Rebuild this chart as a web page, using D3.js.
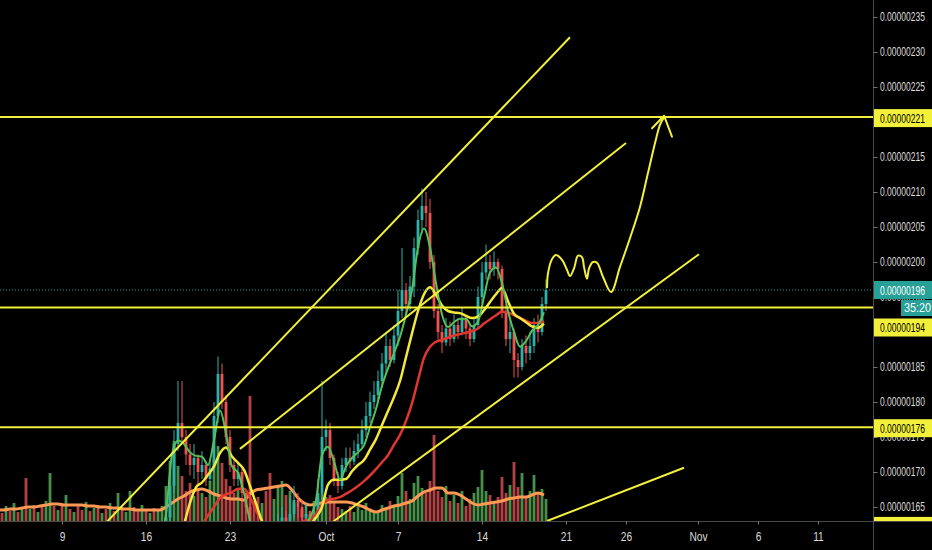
<!DOCTYPE html>
<meta charset="utf-8">
<script src="https://cdn.jsdelivr.net/npm/d3@7/dist/d3.min.js"></script>
<style>
    body { margin: 0; background: #000; }
    svg { display: block; }
    text { font-family: "Liberation Sans", Arial, sans-serif; }
</style>
<body>
<svg width="932" height="550"></svg>
</body>
<script>
    // 8h candles, price in 1e-8 units (196 -> 0.00000196), first candle Sep 3 16:00
    var firstOpen = 160.5;
    var closes = [
        160, 159.5, 160, 159, 159.5, 159, 159.5, 158, 158.5, 158,
        158.5, 158, 158.5, 160, 159.5, 160, 159.5, 160.5, 160, 160.5,
        160, 159.5, 160, 159.5, 160, 159.5, 160, 159.5, 160, 159.5,
        160.5, 160, 160.5, 161, 160.5, 160, 160.5, 160, 160.5, 160,
        160.5, 161, 163.5, 168, 174, 177, 175, 172.5, 171, 172,
        170, 171, 169, 170.5, 178, 184, 180, 175, 171, 169,
        170, 167, 165, 163, 161, 160.5, 161, 160.5, 160, 161,
        162, 163.5, 162.5, 164, 166, 165, 163.5, 164, 163, 164,
        167, 175, 176, 172, 169, 168, 171, 172, 171.5, 173,
        174, 176, 178, 180, 181, 183, 185.5, 188, 186, 189.5,
        193, 196, 194, 196.5, 202, 206, 208, 207, 200, 193,
        190, 188.5, 190.5, 189, 191, 190, 192, 190.5, 189, 191,
        195, 198.5, 200, 199, 200, 199, 193, 189, 190, 186,
        185, 188, 187, 188, 191, 190, 194, 196
    ];
    var highs = [
        161, 161, 161, 160.5, 160.5, 160.5, 160.5, 160, 159.5, 159.5,
        159.5, 159.5, 159.5, 161.5, 161, 161, 161, 161.5, 161.5, 161.5,
        161.5, 160.5, 161, 160.5, 161, 160.5, 161, 160.5, 161, 160.5,
        161.5, 161.5, 161.5, 162, 162, 161.5, 161.5, 161.5, 161.5, 161.5,
        161.5, 162, 166, 170, 176, 183, 183, 176, 174, 174,
        172.5, 173, 171.5, 172, 180, 186.5, 185.5, 181, 176, 172,
        171.5, 170.5, 167.5, 165.5, 163, 162, 162, 162, 161.5, 162,
        164, 165, 164.5, 166.5, 168, 167, 166, 165.5, 164.5, 165.5,
        169, 183, 177.5, 177, 172.5, 170, 172, 173.5, 173.5, 174.5,
        175.5, 177.5, 180, 181.5, 183, 184.5, 187, 190, 189, 191,
        196, 202, 197, 198, 203.5, 207.5, 210.5, 210, 209, 201,
        194, 191, 192, 191.5, 192.5, 192, 193.5, 192.5, 191, 192,
        196.5, 200, 202.5, 201, 201.5, 200.5, 199.5, 194, 192, 190.5,
        187, 189, 189.5, 190, 192, 192.5, 195, 197.5
    ];
    var lows = [
        159, 158.5, 159, 158, 158.5, 158, 158.5, 157, 157.5, 157,
        157.5, 157, 157.5, 158, 158.5, 159, 158.5, 159, 159, 159.5,
        159, 158.5, 159, 158.5, 159, 158.5, 159, 158.5, 159, 158.5,
        159, 159, 159.5, 160, 159.5, 159, 159.5, 159, 159.5, 159,
        159.5, 160, 160, 163, 167, 173, 174, 171, 169.5, 169,
        168, 169, 168, 168.5, 170, 177, 179, 174, 170, 168,
        168, 166, 164, 161, 159.5, 159, 159.5, 159, 158.5, 159.5,
        160.5, 161.5, 161, 162, 163.5, 163.5, 162.5, 162.5, 162, 162.5,
        163.5, 166, 173, 171, 168, 167, 167.5, 170, 170.5, 171,
        172, 173.5, 175, 177, 179, 180, 182, 184, 185, 185.5,
        188, 192, 192.5, 193, 195, 201, 204, 205, 199, 192,
        189, 187, 188, 188, 188.5, 189, 189.5, 189, 188, 188.5,
        190.5, 194, 197.5, 197.5, 198, 197.5, 192, 188, 187, 183.5,
        183.5, 184.5, 185.5, 186, 187, 188.5, 189.5, 193
    ];
    var volumes = [
        12, 8, 15, 10, 18, 9, 14, 43, 12, 16,
        9, 14, 20, 48, 15, 11, 17, 26, 12, 9,
        15, 11, 19, 10, 13, 16, 8, 12, 18, 10,
        28, 12, 9, 30, 14, 10, 16, 11, 8, 13,
        10, 15, 35, 60, 80, 55, 45, 30, 38, 25,
        33, 28, 24, 40, 62, 75, 58, 42, 35, 28,
        32, 22, 26, 125, 20, 24, 18, 30, 48, 22,
        35, 40, 26, 30, 18, 14, 12, 16, 10, 20,
        22, 28, 24, 26, 18, 14, 12, 10, 15, 9,
        14, 11, 18, 12, 8, 10, 16, 13, 20, 15,
        25, 48, 30, 22, 38, 45, 33, 28, 40, 86,
        30, 24, 35, 20, 26, 18, 30, 15, 22, 28,
        34, 51, 30, 26, 20, 24, 44, 28, 36, 59,
        34, 48, 25, 30, 46, 28, 32, 22
    ];

    // moving averages, one value every 12h from the first candle
    var maFast = [
        158, 158, 158, 159, 159, 159, 159, 158, 158, 158,
        158, 159, 159, 159, 159, 158, 158, 158, 158, 158,
        158, 158, 158, 158, 158, 159, 159, 160,
        164, 172.5, 174.5, 174, 172.8, 172.3, 172.2, 171, 174.5, 178.8,
        175.5, 170.8, 169.9, 167, 163.1, 161, 160, 159.5, 159.5, 160,
        161, 162, 162.5, 162.5, 163.5, 166, 172.4, 173.6, 171.5, 168.9,
        170.8, 172, 172.8, 173.8, 176.4, 179, 182.3, 184.8, 187, 189.3,
        192.5, 196, 202.1, 204.8, 202.1, 197, 192.5, 190.7, 191.4, 191.9,
        191.9, 190.8, 191.5, 195, 198.5, 199.2, 197, 193, 190, 187.9,
        188.7, 190.2, 191, 192.8
    ];
    var maMid = [
        157, 157, 157.5, 157.5, 158, 158, 158, 158, 158, 158,
        158, 158, 158, 158, 158, 158, 158, 158, 158, 158,
        158, 158, 158, 158, 158, 158, 158.5, 158.5, 159, 159.5,
        160, 162.5, 165.6, 167.8, 168.5, 169.6, 170.8, 172.7, 173.5, 172.2,
        171.3, 170.3, 168, 165.5, 163, 162, 161.5, 161, 161, 161,
        161.5, 162, 162.5, 163.5, 165, 168.2, 168.9, 168.9, 169, 170.1,
        171, 171.7, 173.2, 174.7, 176.7, 178.7, 180.7, 183, 186.4, 189.8,
        193, 195.4, 196.4, 195.3, 193.8, 193, 192.8, 192.7, 192.3, 192,
        192.2, 193.1, 194.3, 195.4, 196.3, 194.4, 192.6, 192, 191.4, 190.8,
        190.6, 191.2
    ];
    var maSlow = [
        157, 157, 157, 157, 157.5, 157.5, 157.5, 157.5, 157.5, 157.5,
        157.5, 157.5, 157.5, 157.5, 157.5, 157.5, 157.5, 157.5, 157.5, 157.5,
        157.5, 157.5, 157.5, 157.5, 157.5, 157.5, 158, 158.5, 159, 159.5,
        160, 160.8, 161.5, 162, 162.5, 163.8, 165, 166.3, 166.8, 167.1,
        167.6, 167.6, 166.4, 164.5, 163, 162.5, 162.3, 162.2, 162.2, 162.3,
        162.5, 163, 163.3, 164, 165.3, 166, 166.2, 166.4, 166.9, 167.4,
        168, 168.7, 169.5, 170.4, 171.4, 172.4, 173.9, 175.3, 177.3, 179.8,
        183.1, 186.3, 187.9, 188.6, 188.9, 189.2, 189.5, 189.7, 189.9, 190.1,
        190.5, 191.2, 191.8, 192.4, 192.9, 192.8, 192.4, 192, 191.6, 191.3,
        191.3, 191.5
    ];
    var volMa = [
        11, 11, 12, 12, 13, 14, 14, 15, 16, 17,
        17, 16, 16, 16, 16, 15, 15, 14, 14, 13,
        13, 12, 12, 11, 11, 11, 11, 11, 14, 18,
        22, 25, 29, 31, 32, 30, 27, 25, 23, 22,
        22, 21, 27, 31, 32, 33, 34, 35, 36, 31,
        23, 18, 16, 17, 18, 19, 19, 19, 19, 18,
        16, 14, 11, 9, 11, 13, 15, 16, 18, 20,
        25, 29, 31, 33, 33, 28, 28, 26, 22, 18,
        16, 17, 18, 19, 20, 22, 23, 24, 24, 26,
        28, 26
    ];

    // 220 and 190 sit fully under the level tags, so they are left out
    var priceTicks = [165, 170, 175, 180, 185, 195, 200, 205, 210, 215, 225, 230, 235];
    var dateTicks = ["2019-09-09", "2019-09-16", "2019-09-23", "2019-10-01", "2019-10-07", "2019-10-14",
        "2019-10-21", "2019-10-26", "2019-11-01", "2019-11-06", "2019-11-11"];
    var dateLabels = ["9", "16", "23", "Oct", "7", "14", "21", "26", "Nov", "6", "11"];

    // horizontal levels drawn on the chart
    var levelPrices = [220.7, 193.5, 176.4, 162.3];
    var levelLabels = ["0.00000221", "0.00000194", "0.00000176", "0.00000162"];
    var lastPrice = 196, lastLabel = "0.00000196", countdown = "35:20";

    // trend lines: [day from Sep 9, price, day, price]
    var trendLines = [
        [3.75, 162.9, 42.33, 232.1],
        [14.83, 173.3, 47, 217],
        [22.58, 162.9, 53.08, 201.1],
        [40.42, 163, 51.83, 170.6]
    ];
    // hand drawn forecast
    var sketchDays = [40.42, 40.5, 40.83, 41.17, 41.67, 42.08, 42.33, 42.67, 43, 43.33, 43.5, 43.75,
        43.92, 44.25, 44.58, 45.08, 45.75, 46.5, 47.33, 48.17, 48.83, 49.42, 49.83, 50.17];
    var sketchPrices = [196.4, 198.4, 200.4, 201, 200.3, 198.9, 198, 199.1, 200.9, 200.7, 199.3, 197.6,
        199.1, 200, 199.9, 197.9, 195.7, 199.3, 203.4, 207.9, 212.7, 217, 219.6, 220.7];
    var arrowDays = [49.17, 50.17, 50.83];
    var arrowPrices = [219.1, 220.9, 217.9];

    //颜色
    var clr_up = "#2fb1a8", clr_down = "#ef5350",
        clr_vol_up = "#54a957", clr_vol_down = "#d24e51",
        clr_fast = "#55c15a", clr_mid = "#f3e83c", clr_slow = "#e0362f", clr_volma = "#ff9a55",
        clr_draw = "#f3f03a", clr_teal = "#27a197", clr_axis = "#4a4a4a", clr_txt = "#dcdcdc";

    var width = 932, height = 550, plotW = 873, plotH = 521;
    var svg = d3.select('svg');

    var base = Date.UTC(2019, 8, 9);
    function day(t) { return new Date(base + t * 864e5); }
    var parseDay = d3.utcParse("%Y-%m-%d");

    var x = d3.scaleUtc().domain([day(0), day(63)]).range([62, 818]);
    var y = d3.scaleLinear().domain([165, 235]).range([507, 17]);
    var yVol = d3.scaleLinear().domain([0, 100]).range([521, 421]);

    svg.append('rect').attr('width', width).attr('height', height).attr('fill', '#000');

    var defs = svg.append('defs');
    defs.append('clipPath').attr('id', 'plot')
        .append('rect').attr('width', plotW).attr('height', plotH);
    defs.append('clipPath').attr('id', 'scale')
        .append('rect').attr('x', plotW).attr('width', width - plotW).attr('height', plotH);

    var g = svg.append('g').attr('clip-path', 'url(#plot)');

    var candles = closes.map(function (c, i) {
        return {
            t: day(-16 / 3 + i / 3),
            o: i ? closes[i - 1] : firstOpen,
            c: c, h: highs[i], l: lows[i], v: volumes[i]
        };
    });
    function maTime(k) { return day(-16 / 3 + k / 2); }

    //成交量
    g.append('g').selectAll('rect')
        .data(candles)
        .enter()
        .append('rect')
        .attr('x', function (d) { return x(d.t) - 1.4; })
        .attr('width', 2.8)
        .attr('y', function (d) { return yVol(d.v); })
        .attr('height', function (d) { return yVol(0) - yVol(d.v); })
        .attr('fill', function (d) { return d.c >= d.o ? clr_vol_up : clr_vol_down; })
        .attr('opacity', 0.85);

    g.append('path')
        .datum(volMa)
        .attr('fill', 'none')
        .attr('stroke', clr_volma)
        .attr('stroke-width', 3)
        .attr('d', d3.line()
            .x(function (d, k) { return x(maTime(k)); })
            .y(function (d) { return yVol(d); })
            .curve(d3.curveMonotoneX));

    //蜡烛
    var candle = g.append('g').selectAll('g')
        .data(candles)
        .enter()
        .append('g')
        .attr('fill', function (d) { return d.c >= d.o ? clr_up : clr_down; })
        .attr('stroke', function (d) { return d.c >= d.o ? clr_up : clr_down; });

    candle.append('line')
        .attr('x1', function (d) { return x(d.t); })
        .attr('x2', function (d) { return x(d.t); })
        .attr('y1', function (d) { return y(d.h); })
        .attr('y2', function (d) { return y(d.l); })
        .attr('stroke-width', 1);

    candle.append('rect')
        .attr('stroke', 'none')
        .attr('x', function (d) { return x(d.t) - 1.4; })
        .attr('width', 2.8)
        .attr('y', function (d) { return y(Math.max(d.o, d.c)); })
        .attr('height', function (d) { return Math.max(1, Math.abs(y(d.o) - y(d.c))); });

    //均线
    [[maSlow, clr_slow, 2.5], [maMid, clr_mid, 2.5], [maFast, clr_fast, 2]].forEach(function (m) {
        g.append('path')
            .datum(m[0])
            .attr('fill', 'none')
            .attr('stroke', m[1])
            .attr('stroke-width', m[2])
            .attr('d', d3.line()
                .x(function (d, k) { return x(maTime(k)); })
                .y(function (d) { return y(d); })
                .curve(d3.curveMonotoneX));
    });

    //现价虚线
    g.append('line')
        .attr('x1', 0).attr('x2', plotW)
        .attr('y1', y(lastPrice)).attr('y2', y(lastPrice))
        .attr('stroke', clr_teal)
        .attr('stroke-width', 1)
        .attr('stroke-dasharray', '1,2');

    //水平线
    g.selectAll('line.level')
        .data(levelPrices)
        .enter()
        .append('line')
        .attr('class', 'level')
        .attr('x1', 0).attr('x2', plotW)
        .attr('y1', function (d) { return y(d); })
        .attr('y2', function (d) { return y(d); })
        .attr('stroke', clr_draw)
        .attr('stroke-width', 2);

    //趋势线
    g.selectAll('line.trend')
        .data(trendLines)
        .enter()
        .append('line')
        .attr('class', 'trend')
        .attr('x1', function (d) { return x(day(d[0])); })
        .attr('y1', function (d) { return y(d[1]); })
        .attr('x2', function (d) { return x(day(d[2])); })
        .attr('y2', function (d) { return y(d[3]); })
        .attr('stroke', clr_draw)
        .attr('stroke-width', 2);

    //手绘预测
    g.append('path')
        .datum(sketchDays)
        .attr('fill', 'none')
        .attr('stroke', clr_draw)
        .attr('stroke-width', 2)
        .attr('stroke-linecap', 'round')
        .attr('d', d3.line()
            .x(function (d) { return x(day(d)); })
            .y(function (d, i) { return y(sketchPrices[i]); })
            .curve(d3.curveCatmullRom));

    g.append('path')
        .datum(arrowDays)
        .attr('fill', 'none')
        .attr('stroke', clr_draw)
        .attr('stroke-width', 2)
        .attr('stroke-linecap', 'round')
        .attr('stroke-linejoin', 'round')
        .attr('d', d3.line()
            .x(function (d) { return x(day(d)); })
            .y(function (d, i) { return y(arrowPrices[i]); }));

    //坐标轴
    svg.append('line')
        .attr('x1', 0).attr('x2', width)
        .attr('y1', plotH + 0.5).attr('y2', plotH + 0.5)
        .attr('stroke', clr_axis);
    svg.append('line')
        .attr('x1', plotW + 0.5).attr('x2', plotW + 0.5)
        .attr('y1', 0).attr('y2', height)
        .attr('stroke', clr_axis);

    // narrow price text: 12px squeezed to the tradingview width
    var squeeze = 0.71;

    var yAxis = svg.append('g')
        .attr('transform', 'translate(' + (plotW + 0.5) + ',0)')
        .call(d3.axisRight(y)
            .tickValues(priceTicks)
            .tickSize(4)
            .tickPadding(3)
            .tickFormat(function (d) { return (d / 1e8).toFixed(8); }));
    yAxis.select('.domain').remove();
    yAxis.selectAll('line').attr('stroke', '#777');
    yAxis.selectAll('text')
        .attr('fill', clr_txt)
        .style('font-size', '12px')
        .attr('x', 0)
        .attr('transform', 'translate(6.5,0) scale(' + squeeze + ',1)');

    var xAxis = svg.append('g')
        .attr('transform', 'translate(0,' + (plotH + 0.5) + ')')
        .call(d3.axisBottom(x)
            .tickValues(dateTicks.map(parseDay))
            .tickSize(3)
            .tickPadding(8)
            .tickFormat(function (d, i) { return dateLabels[i]; }));
    xAxis.select('.domain').remove();
    xAxis.selectAll('line').attr('stroke', '#777');
    xAxis.selectAll('text')
        .attr('fill', clr_txt)
        .style('font-size', '12px')
        .attr('transform', 'scale(0.85,1)');

    //价格标签
    function tagText(sel, cy, color, txt) {
        sel.append('text')
            .attr('transform', 'translate(880,' + (cy + 4.5) + ') scale(' + squeeze + ',1)')
            .attr('fill', color)
            .style('font-size', '12px')
            .text(txt);
    }
    var labelShift = [1, 20, 1, 0];
    var tags = svg.append('g').attr('clip-path', 'url(#scale)');
    levelPrices.forEach(function (p, i) {
        var cy = y(p) + labelShift[i];
        tags.append('rect')
            .attr('x', plotW + 1).attr('y', cy - 9)
            .attr('width', width - plotW - 1).attr('height', 18)
            .attr('fill', clr_draw);
        tagText(tags, cy, '#000', levelLabels[i]);
    });

    var lastY = y(lastPrice);
    tags.append('rect')
        .attr('x', plotW + 1).attr('y', lastY - 9)
        .attr('width', width - plotW - 1).attr('height', 18)
        .attr('fill', clr_teal);
    tagText(tags, lastY, '#fff', lastLabel);
    tags.append('rect')
        .attr('x', 901).attr('y', lastY + 10)
        .attr('width', 31).attr('height', 16)
        .attr('fill', clr_teal);
    tags.append('text')
        .attr('transform', 'translate(904,' + (lastY + 22) + ') scale(0.9,1)')
        .attr('fill', '#fff')
        .style('font-size', '12px')
        .text(countdown);
</script>
